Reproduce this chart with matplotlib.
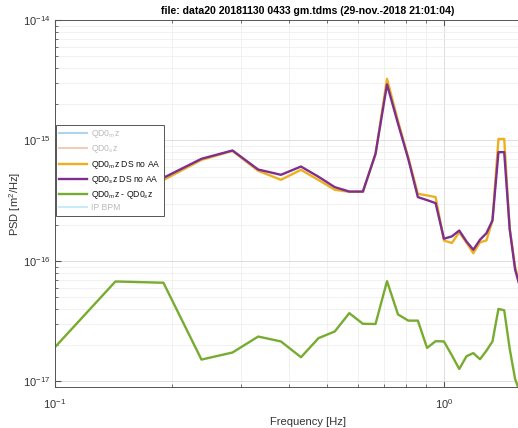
import matplotlib
matplotlib.use('Agg')
import matplotlib.pyplot as plt
from matplotlib.ticker import NullFormatter, LogLocator
import numpy as np

plt.rcParams['font.family'] = ['Liberation Sans', 'DejaVu Sans']
plt.rcParams['mathtext.fontset'] = 'custom'
plt.rcParams['mathtext.rm'] = 'Liberation Sans'
plt.rcParams['mathtext.it'] = 'Liberation Sans:italic'

# frequency bins [Hz]
freq = [0.095, 0.143, 0.190, 0.238, 0.286, 0.333, 0.381, 0.429, 0.476, 0.524,
        0.571, 0.619, 0.667, 0.714, 0.762, 0.810, 0.857, 0.905, 0.952, 1.000,
        1.048, 1.095, 1.143, 1.190, 1.238, 1.286, 1.333, 1.381, 1.429, 1.476,
        1.524, 1.571]

# PSD of QD0m z, downsampled, no anti-alias filter  [1e-16 m^2/Hz]
psd_m = [6.4, 5.4, 4.7, 6.9, 8.2, 5.6, 4.72, 5.71, 4.7, 3.9,
         3.75, 3.75, 7.7, 32.5, 14.5, 7.2, 3.61, 3.5, 3.39, 1.48,
         1.41, 1.73, 1.42, 1.16, 1.43, 1.48, 2.17, 10.3, 10.3, 1.85,
         0.9, 0.6]

# PSD of QD0s z, downsampled, no anti-alias filter  [1e-16 m^2/Hz]
psd_s = [6.5, 5.5, 4.9, 7.05, 8.26, 5.74, 5.19, 6.08, 5.0, 4.1,
         3.77, 3.77, 7.76, 29.2, 13.8, 7.0, 3.39, 3.2, 3.02, 1.53,
         1.6, 1.79, 1.45, 1.24, 1.5, 1.7, 2.17, 8.0, 8.0, 1.85,
         0.85, 0.6]

# PSD of the difference QD0m z - QD0s z  [1e-17 m^2/Hz]
psd_diff = [1.61, 6.76, 6.6, 1.52, 1.74, 2.36, 2.15, 1.59, 2.29, 2.6,
            3.69, 3.01, 3.0, 6.8, 3.6, 3.2, 3.2, 1.9, 2.16, 2.15,
            1.65, 1.27, 1.62, 1.72, 1.53, 1.8, 2.15, 4.0, 3.9, 1.87,
            1.05, 0.8]

freq = np.array(freq)
psd_m = np.array(psd_m) * 1e-16
psd_s = np.array(psd_s) * 1e-16
psd_diff = np.array(psd_diff) * 1e-17

fig = plt.figure(figsize=(5.18, 4.28), dpi=100)
ax = fig.add_axes([55/518, 41/428, 506/518, 367/428])

# hidden channels, only shown greyed out in the legend
ax.plot([], [], color='#0072BD', alpha=0.3, lw=1.5, label='QD0$_m$z')
ax.plot([], [], color='#D95319', alpha=0.3, lw=1.5, label='QD0$_s$z')
ax.plot(freq, psd_m, color='#EDB120', lw=1.7, label='QD0$_m$z DS no AA')
ax.plot(freq, psd_s, color='#7E2F8E', lw=1.7, label='QD0$_s$z DS no AA')
ax.plot(freq, psd_diff, color='#77AC30', lw=1.7, label='QD0$_m$z - QD0$_s$z')
ax.plot([], [], color='#4DBEEE', alpha=0.3, lw=1.5, label='IP BPM')

ax.set_xscale('log')
ax.set_yscale('log')
ax.set_xlim(0.1, 2)
ax.set_ylim(9.0e-18, 1e-14)

ax.yaxis.set_major_locator(LogLocator(base=10, numticks=10))
ax.yaxis.set_minor_locator(LogLocator(base=10, subs=np.arange(2, 10), numticks=10))
ax.xaxis.set_minor_formatter(NullFormatter())
ax.yaxis.set_minor_formatter(NullFormatter())

ax.grid(True, which='major', color='#d9d9d9', lw=0.6)
ax.grid(True, which='minor', color='#ececec', lw=0.5)
ax.set_axisbelow(True)
ax.tick_params(which='both', direction='in', top=True, right=True, colors='#555555',
               labelcolor='#333333', labelsize=8)
ax.tick_params(which='major', length=4)
ax.tick_params(which='minor', length=2)
ax.tick_params(axis='x', which='major', pad=7)
for sp in ax.spines.values():
    sp.set_color('#555555')
    sp.set_linewidth(0.7)

ax.set_xlabel('Frequency [Hz]', fontsize=8, color='#333333', labelpad=5)
ax.set_ylabel('PSD [m$^2$/Hz]', fontsize=8, color='#333333', labelpad=0)
ax.set_title('file: data20 20181130 0433 gm.tdms (29-nov.-2018 21:01:04)',
             fontsize=7.6, fontweight='bold', pad=4)

leg = ax.legend(loc='upper left', bbox_to_anchor=(0.002, 0.714), borderaxespad=0,
                fontsize=6.2, fancybox=False, edgecolor='#555555', framealpha=1,
                handlelength=3.2, labelspacing=0.3, borderpad=0.4, handletextpad=0.5)
leg.get_frame().set_linewidth(0.7)
for i, t in enumerate(leg.get_texts()):
    t.set_color('#bbbbbb' if i in (0, 1, 5) else '#111111')

fig.savefig('out.png', dpi=100)
